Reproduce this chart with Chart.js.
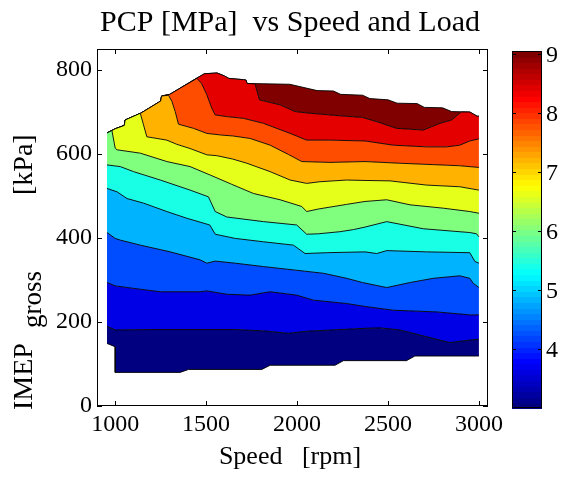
<!DOCTYPE html>
<html>
<head>
<meta charset="utf-8">
<script src="https://cdn.jsdelivr.net/npm/chart.js"></script>
<style>
  html, body { margin: 0; padding: 0; background: #fff; }
  #wrap { width: 565px; height: 479px; }
</style>
</head>
<body>
<div id="wrap"><canvas id="pcpChart" width="565" height="479"></canvas></div>
<script>
// contour levels (PCP, MPa) and colour limits
const levels = [3.00, 3.61, 4.21, 4.82, 5.42, 6.03, 6.63, 7.24, 7.84, 8.45, 9.05];
const cMin = 3.0;
const cMax = 9.05;
const cbTicks = [4, 5, 6, 7, 8, 9];

const xTicks = [1000, 1500, 2000, 2500, 3000];
const yTicks = [0, 200, 400, 600, 800];

// edges of the measured region [rpm, kPa]
const topEdge = [[955,650],[1000,660],[1050,668],[1055,681],[1140,697],[1250,726],[1255,738],[1300,742],
  [1450,781],[1490,791],[1560,793],[1600,786],[1625,780],[1705,777],[1720,776],[1725,768],[1960,766],
  [2050,757],[2110,751],[2200,750],[2240,742],[2360,740],[2400,732],[2500,729],[2550,721],[2660,720],
  [2700,711],[2800,710],[2850,701],[2950,700],[2990,690],[3000,690]];
const bottomEdge = [[955,149],[1000,141],[1000,80],[1357,80],[1403,87],[1806,87],[1852,97],[2209,97],
  [2255,108],[2602,108],[2648,119],[3000,119]];

// contour lines [rpm, kPa], one per level above the minimum
const c1 = [[955,190],[1000,181],[1193,182],[1660,182],[1815,179],[1952,173],[2053,178],[2374,185],
  [2456,186],[2566,181],[2712,165],[2840,151],[2950,157],[3000,159]];
const c2 = [[955,294],[1000,286],[1101,280],[1248,272],[1467,272],[1504,274],[1614,266],[1742,264],
  [1852,272],[1998,264],[2090,252],[2273,244],[2374,237],[2529,228],[2767,224],[2950,217],[3000,217]];
const c3 = [[955,413],[1000,399],[1028,395],[1138,383],[1303,367],[1467,348],[1504,340],[1550,345],
  [1660,340],[1815,332],[1980,324],[2145,316],[2273,304],[2360,294],[2493,282],[2621,294],[2749,304],
  [2895,310],[2950,304],[2969,292],[3000,282]];
const c4 = [[955,518],[1010,510],[1065,494],[1156,483],[1284,463],[1394,447],[1520,431],[1550,409],
  [1660,399],[1815,391],[1980,383],[2044,363],[2163,365],[2374,367],[2438,363],[2493,370],[2712,367],
  [2950,365],[2978,344],[3000,340]];
const c5 = [[955,574],[1028,570],[1101,558],[1248,538],[1412,514],[1513,498],[1550,463],[1614,450],
  [1815,439],[1998,431],[2053,409],[2117,410],[2236,415],[2310,420],[2374,426],[2493,439],[2694,422],
  [2950,413],[2987,410],[3000,403]];
const c6 = [[982,656],[1000,614],[1010,610],[1138,602],[1284,582],[1412,570],[1522,550],[1640,528],
  [1760,506],[1907,491],[2026,475],[2053,463],[2117,469],[2272,480],[2374,487],[2493,491],[2621,479],
  [2804,471],[2950,463],[3000,459]];
const c7 = [[1138,697],[1156,669],[1174,641],[1284,633],[1339,623],[1412,613],[1504,598],[1559,596],
  [1646,588],[1724,578],[1852,558],[1962,538],[2053,530],[2126,534],[2272,538],[2374,537],[2511,536],
  [2712,526],[2895,522],[3000,514]];
const c8 = [[1293,740],[1312,725],[1330,701],[1348,671],[1431,661],[1504,649],[1586,645],[1646,643],
  [1742,637],[1852,621],[1952,599],[2026,582],[2181,580],[2374,582],[2566,578],[2786,574],[2895,572],
  [3000,568]];
const c9 = [[1449,780],[1475,768],[1504,741],[1531,709],[1550,693],[1614,689],[1705,685],[1815,673],
  [1962,649],[2053,633],[2181,633],[2374,631],[2529,621],[2712,617],[2822,617],[2895,621],[2950,631],
  [3000,636]];
const c10 = [[1769,767],[1793,729],[1907,717],[1989,701],[2071,697],[2236,691],[2360,687],[2438,677],
  [2547,661],[2694,657],[2786,673],[2850,681],[2895,697],[2905,700]];

const FONT = "'Liberation Serif', 'Times New Roman', serif";

function jet(f) {
  const c = v => Math.round(255 * Math.max(0, Math.min(1, v)));
  return `rgb(${c(1.5 - Math.abs(4 * f - 3))},${c(1.5 - Math.abs(4 * f - 2))},${c(1.5 - Math.abs(4 * f - 1))})`;
}

// a contour that runs into the top edge follows that edge outside its own range
function closeToTop(pts) {
  const x0 = pts[0][0], x1 = pts[pts.length - 1][0];
  return topEdge.filter(p => p[0] < x0).concat(pts, topEdge.filter(p => p[0] > x1));
}

const lines = [bottomEdge, c1, c2, c3, c4, c5, c6, c7, c8, c9, c10, topEdge]
  .map((pts, i) => (i >= 6 && i <= 10) ? closeToTop(pts) : pts);

const datasets = lines.map((pts, i) => ({
  data: pts.map(p => ({ x: p[0], y: p[1] })),
  borderColor: "#000",
  borderWidth: 0.9,
  pointRadius: 0,
  tension: 0,
  fill: i === 0 ? false : "-1",
  backgroundColor: i === 0 ? "rgba(0,0,0,0)" : jet((levels[i - 1] - cMin) / (cMax - cMin))
}));

const decorations = {
  id: "decorations",
  afterDraw(chart) {
    const { ctx, chartArea: a, scales: { x, y } } = chart;
    ctx.save();
    ctx.strokeStyle = "#000";
    ctx.lineWidth = 1;
    ctx.strokeRect(a.left + 0.5, a.top + 0.5, a.right - a.left - 1, a.bottom - a.top - 1);
    ctx.beginPath();
    xTicks.forEach(v => {
      const px = Math.round(x.getPixelForValue(v)) + 0.5;
      ctx.moveTo(px, a.bottom); ctx.lineTo(px, a.bottom - 5);
      ctx.moveTo(px, a.top); ctx.lineTo(px, a.top + 5);
    });
    yTicks.forEach(v => {
      const py = Math.round(y.getPixelForValue(v)) + 0.5;
      ctx.moveTo(a.left, py); ctx.lineTo(a.left + 5, py);
      ctx.moveTo(a.right, py); ctx.lineTo(a.right - 5, py);
    });
    ctx.stroke();

    // colorbar
    const cbL = 512, cbR = 542, cbT = 51, cbB = 408;
    const n = 64;
    for (let i = 0; i < n; i++) {
      const y0 = cbB - (i + 1) * (cbB - cbT) / n;
      ctx.fillStyle = jet(i / (n - 1));
      ctx.fillRect(cbL, Math.floor(y0), cbR - cbL, Math.ceil((cbB - cbT) / n) + 1);
    }
    ctx.strokeRect(cbL + 0.5, cbT + 0.5, cbR - cbL - 1, cbB - cbT - 1);
    ctx.fillStyle = "#000";
    ctx.font = `24px ${FONT}`;
    ctx.textAlign = "left";
    ctx.textBaseline = "middle";
    ctx.beginPath();
    cbTicks.forEach(v => {
      const py = Math.round(cbB - (v - cMin) / (cMax - cMin) * (cbB - cbT)) + 0.5;
      ctx.moveTo(cbL, py); ctx.lineTo(cbL + 4, py);
      ctx.moveTo(cbR, py); ctx.lineTo(cbR - 4, py);
      ctx.fillText(String(v), 546, py + 1);
    });
    ctx.stroke();

    // title and axis labels
    ctx.textAlign = "center";
    ctx.textBaseline = "alphabetic";
    ctx.font = `30px ${FONT}`;
    ctx.fillText("PCP [MPa]  vs Speed and Load", 290, 31);
    ctx.font = `26px ${FONT}`;
    ctx.fillText("Speed   [rpm]", 290, 464);

    ctx.translate(32, 410);
    ctx.rotate(-Math.PI / 2);
    ctx.textAlign = "left";
    ctx.font = `28px ${FONT}`;
    ctx.fillText("IMEP", 0, 0);
    ctx.font = `27px ${FONT}`;
    ctx.fillText("gross", 82, 9);
    ctx.font = `28px ${FONT}`;
    ctx.fillText("[kPa]", 215, 0);
    ctx.restore();
  }
};

new Chart(document.getElementById("pcpChart"), {
  type: "line",
  data: { datasets },
  options: {
    responsive: false,
    animation: false,
    layout: { padding: { top: 49, right: 77, left: 0, bottom: 0 } },
    plugins: { legend: { display: false }, tooltip: { enabled: false } },
    scales: {
      x: {
        type: "linear", min: 900, max: 3050,
        afterBuildTicks: s => { s.ticks = xTicks.map(v => ({ value: v })); },
        afterFit: s => { s.height = 73; },
        grid: { display: false, drawTicks: false },
        border: { display: false },
        ticks: { color: "#000", font: { family: FONT, size: 24 }, padding: 4, maxRotation: 0,
          callback: v => String(v) }
      },
      y: {
        type: "linear", min: 0, max: 850,
        afterBuildTicks: s => { s.ticks = yTicks.map(v => ({ value: v })); },
        afterFit: s => { s.width = 97; },
        grid: { display: false, drawTicks: false },
        border: { display: false },
        ticks: { color: "#000", font: { family: FONT, size: 24 }, padding: 5,
          callback: v => String(v) }
      }
    }
  },
  plugins: [decorations]
});
</script>
</body>
</html>
